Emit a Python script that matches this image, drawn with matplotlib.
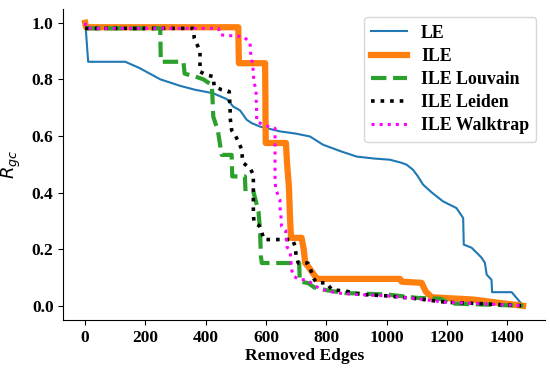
import matplotlib
matplotlib.use('Agg')
import matplotlib.pyplot as plt

le_x = [0, 2, 10, 133, 180, 249, 315, 365, 424, 470, 491, 514, 536, 553, 580, 647, 700, 746,
        789, 850, 901, 960, 1011, 1050, 1067, 1088, 1104, 1121, 1150, 1187, 1232, 1254, 1256,
        1282, 1315, 1326, 1332, 1348, 1350, 1415, 1445, 1453]
le_y = [1.0, 0.98, 0.862, 0.862, 0.84, 0.80, 0.777, 0.763, 0.751, 0.73, 0.704, 0.69, 0.657, 0.645,
        0.633, 0.616, 0.608, 0.598, 0.569, 0.545, 0.527, 0.52, 0.516, 0.505, 0.498, 0.48, 0.457,
        0.428, 0.40, 0.369, 0.345, 0.31, 0.216, 0.205, 0.17, 0.152, 0.11, 0.092, 0.048, 0.048,
        0.01, 0.0]

ile_x = [0, 3, 508, 510, 597, 599, 666, 670, 676, 680, 683, 718, 725, 730, 739, 763, 770, 1044,
         1050, 1116, 1130, 1150, 1287, 1376, 1453]
ile_y = [1.0, 0.984, 0.984, 0.857, 0.857, 0.575, 0.575, 0.50, 0.42, 0.30, 0.24, 0.24, 0.20, 0.151,
         0.14, 0.104, 0.095, 0.095, 0.085, 0.081, 0.05, 0.03, 0.022, 0.01, 0.0]

louvain_x = [0, 249, 251, 326, 330, 365, 392, 420, 422, 425, 440, 453, 486, 488, 530, 532, 558,
             575, 580, 583, 586, 710, 712, 740, 760, 800, 862, 1000, 1100, 1177, 1210, 1453]
louvain_y = [0.98, 0.98, 0.862, 0.862, 0.82, 0.81, 0.80, 0.78, 0.745, 0.668, 0.62, 0.533, 0.533,
             0.457, 0.457, 0.404, 0.404, 0.333, 0.27, 0.175, 0.151, 0.151, 0.086, 0.08, 0.065,
             0.055, 0.045, 0.04, 0.028, 0.025, 0.008, 0.0]

leiden_x = [0, 359, 362, 381, 381, 403, 425, 428, 453, 478, 481, 481, 486, 497, 508, 520, 521,
            525, 547, 558, 558, 560, 577, 586, 593, 688, 697, 700, 707, 739, 752, 757, 768, 801,
            818, 868, 912, 1000, 1100, 1200, 1300, 1453]
leiden_y = [0.98, 0.98, 0.945, 0.90, 0.827, 0.815, 0.81, 0.775, 0.763, 0.757, 0.69, 0.664, 0.62,
            0.604, 0.58, 0.551, 0.527, 0.504, 0.486, 0.463, 0.33, 0.295, 0.283, 0.26, 0.234,
            0.234, 0.209, 0.175, 0.151, 0.151, 0.116, 0.098, 0.081, 0.081, 0.057, 0.051, 0.04,
            0.035, 0.025, 0.012, 0.008, 0.0]

walktrap_x = [0, 3, 442, 448, 525, 547, 548, 550, 556, 558, 560, 567, 567, 568, 569, 569, 608,
              630, 630, 632, 646, 647, 650, 652, 665, 669, 680, 683, 684, 691, 713, 735, 774, 789,
              835, 900, 1000, 1100, 1200, 1300, 1453]
walktrap_y = [1.0, 0.98, 0.98, 0.957, 0.951, 0.93, 0.91, 0.88, 0.85, 0.82, 0.79, 0.763, 0.739,
              0.71, 0.68, 0.65, 0.633, 0.627, 0.445, 0.413, 0.375, 0.34, 0.31, 0.28, 0.266, 0.21,
              0.188, 0.157, 0.131, 0.104, 0.092, 0.092, 0.063, 0.057, 0.045, 0.04, 0.035, 0.025,
              0.012, 0.008, 0.0]

FONT = 'Liberation Serif'

fig = plt.figure(figsize=(5.5, 3.72), dpi=100)
ax = fig.add_axes([0.115, 0.14, 0.876, 0.837])

ax.plot(le_x, le_y, color='tab:blue', lw=1.5, label='LE')
ax.plot(ile_x, ile_y, color='tab:orange', lw=4.5, label='ILE')
ax.plot(louvain_x, louvain_y, color='tab:green', ls='--', lw=3, label='ILE Louvain')
ax.plot(leiden_x, leiden_y, color='k', ls=':', lw=2.6, label='ILE Leiden')
ax.plot(walktrap_x, walktrap_y, color='magenta', ls=':', lw=2.2, label='ILE Walktrap')

# Оформление
ax.spines['top'].set_visible(False)
ax.spines['right'].set_visible(False)
ax.set_xticks([0, 200, 400, 600, 800, 1000, 1200, 1400])
ax.set_yticks([0.0, 0.2, 0.4, 0.6, 0.8, 1.0])
for lbl in ax.get_xticklabels() + ax.get_yticklabels():
    lbl.set_fontfamily(FONT)
    lbl.set_fontweight('bold')
    lbl.set_fontsize(12.5)
ax.set_xlabel('Removed Edges', fontfamily=FONT, fontweight='bold', fontsize=12.5, labelpad=2)
ax.set_ylabel('$R_{gc}$', fontsize=13, labelpad=6)
ax.legend(loc='upper right', prop={'family': FONT, 'weight': 'bold', 'size': 12.8},
          handlelength=2.0, labelspacing=0.35, borderaxespad=0.5, bbox_to_anchor=(1.0, 1.0))

fig.savefig('out.png', dpi=100)
